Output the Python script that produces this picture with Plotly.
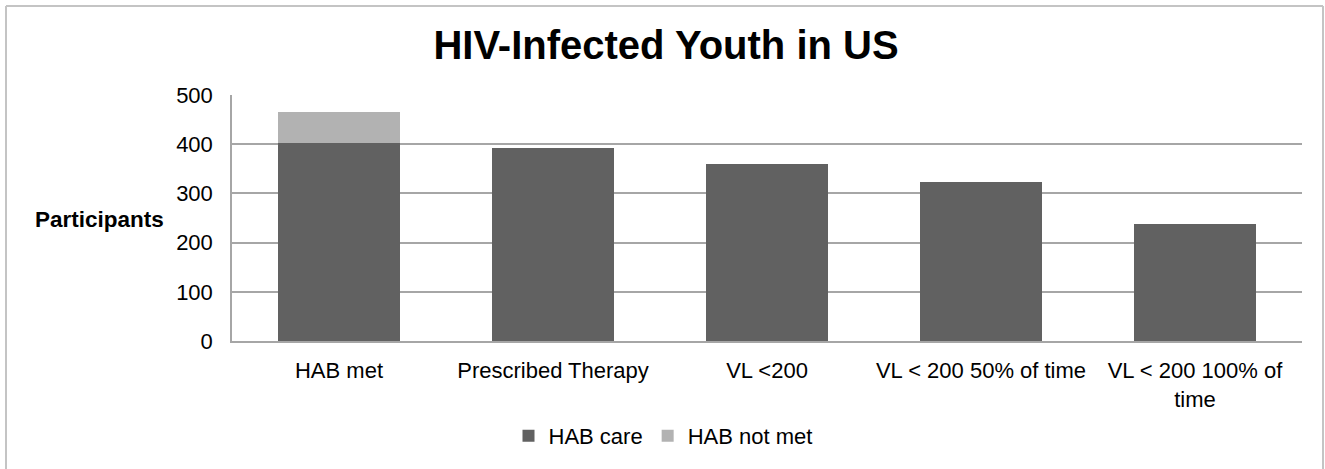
import plotly.graph_objects as go

categories = ["HAB met", "Prescribed Therapy", "VL <200", "VL < 200 50% of time", "VL < 200 100% of<br>time"]
hab_care = [403, 393, 359, 324, 238]
hab_not_met = [62, 0, 0, 0, 0]
y_ticks = [0, 100, 200, 300, 400, 500]

FONT = "Arial, Liberation Sans, sans-serif"

fig = go.Figure()
fig.add_trace(go.Bar(x=categories, y=hab_care, name="HAB care",
                     marker=dict(color="#616161", line=dict(width=0))))
fig.add_trace(go.Bar(x=categories, y=hab_not_met, name="HAB not met",
                     marker=dict(color="#b2b2b2", line=dict(width=0))))

L, R, T, B = 232, 23, 95, 125
W, H = 1325, 469
pw = W - L - R
ph = H - T - B

def px_x(p):
    return (p - L) / pw

def px_y(p):
    return (H - B - p) / ph

fig.update_layout(
    width=W, height=H,
    margin=dict(l=L, r=R, t=T, b=B),
    barmode="stack",
    bargap=0.43,
    paper_bgcolor="white",
    plot_bgcolor="white",
    font=dict(family=FONT, size=22, color="#000000"),
    title=dict(text="<b>HIV-Infected Youth in US</b>", x=666 / W,
               xanchor="center", y=1 - 45 / H, yanchor="middle", yref="container",
               font=dict(family=FONT, size=40, color="#000000")),
    showlegend=True,
    legend=dict(orientation="h", x=(663 - L) / pw, xanchor="center",
                y=px_y(440), yanchor="middle", font=dict(size=22, family=FONT),
                itemwidth=30, traceorder="normal", bgcolor="rgba(0,0,0,0)"),
    xaxis=dict(showgrid=False, showline=True, linecolor="#a6a6a6", linewidth=1.5,
               ticks="", ticklabelstandoff=9, tickfont=dict(size=22)),
    yaxis=dict(range=[0, 500], tickvals=y_ticks, showgrid=True, gridcolor="#a6a6a6",
               gridwidth=1.5, showline=True, linecolor="#a6a6a6", linewidth=1.5,
               ticks="", ticklabelstandoff=13, zeroline=False, tickfont=dict(size=22)),
)

fig.add_annotation(text="<b>Participants</b>", xref="paper", yref="paper",
                   x=px_x(166), y=px_y(221), xanchor="right", yanchor="middle",
                   showarrow=False, font=dict(family=FONT, size=22.5, color="#000000"))

border = dict(color="#c4c4c4", width=2)
bx0, bx1, by_top, by_bot = px_x(6), px_x(1323), px_y(5), px_y(530)
fig.add_shape(type="line", xref="paper", yref="paper", x0=bx0, x1=bx1, y0=by_top, y1=by_top, line=border)
fig.add_shape(type="line", xref="paper", yref="paper", x0=bx0, x1=bx0, y0=by_bot, y1=by_top, line=border)
fig.add_shape(type="line", xref="paper", yref="paper", x0=bx1, x1=bx1, y0=by_bot, y1=by_top, line=border)

fig.write_html("out.html")
